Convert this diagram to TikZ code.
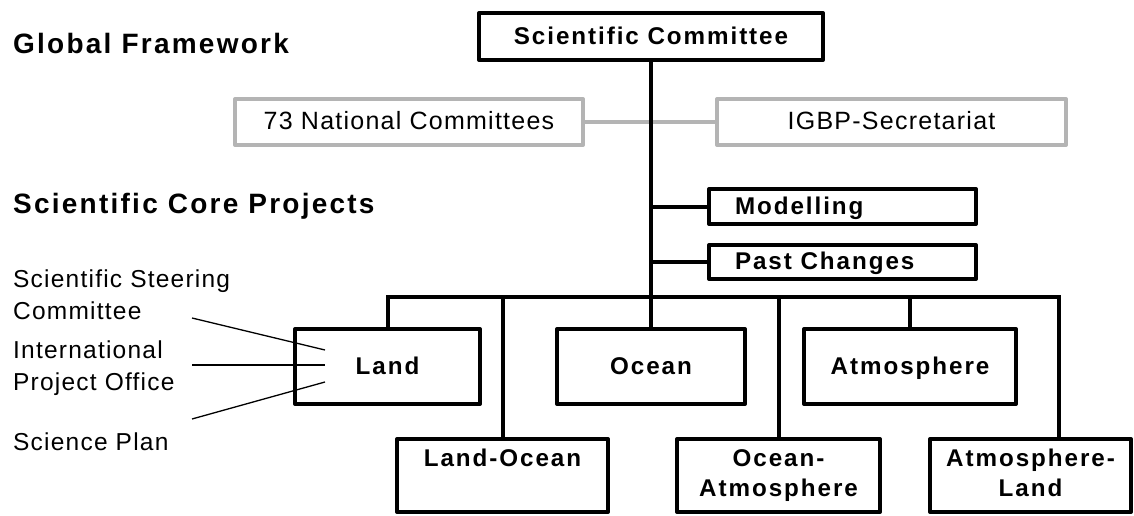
\documentclass[tikz,border=0pt]{standalone}
\usepackage{fontspec}
\setmainfont{Liberation Sans}
\newfontfamily\hfont{Liberation Sans}[LetterSpace=8]
\newfontfamily\bfont{Liberation Sans}[LetterSpace=8]
\newfontfamily\rfont{Liberation Sans}[LetterSpace=5]
\definecolor{boxgray}{RGB}{180,180,180}
\begin{document}
\begin{tikzpicture}[x=1pt,y=-1pt,
  heading/.style={font=\hfont\bfseries\fontsize{28pt}{32pt}\selectfont, anchor=base west, inner sep=0pt},
  lbl/.style={font=\rfont\fontsize{24.5pt}{32pt}\selectfont, anchor=base west, inner sep=0pt, align=left},
  blk/.style={draw=black, line width=4pt, inner sep=0pt, line join=round,
    font=\bfont\bfseries\fontsize{24.2pt}{30pt}\selectfont, text height=17.3pt, text depth=2pt},
  btext/.style={font=\bfont\bfseries\fontsize{24.2pt}{30pt}\selectfont, inner sep=0pt, align=center, anchor=base},
  gry/.style={draw=boxgray, line width=4pt, inner sep=0pt, line join=round,
    font=\rfont\fontsize{25pt}{30pt}\selectfont, text height=18pt, text depth=3pt},
  conn/.style={draw=black, line width=4pt},
  gconn/.style={draw=boxgray, line width=4pt},
  thin/.style={draw=black, line width=1.3pt}]
\useasboundingbox (0,0) rectangle (1134,516);

% headings
\node[heading] (gf) at (13,54) {Global Framework};
\node[heading] (scp) at (13,213) {Scientific Core Projects};

% global framework
\node[blk, minimum width=344pt, minimum height=47pt] (sc) at (651,36.5) {Scientific Committee};
\node[gry, minimum width=348pt, minimum height=46pt] (nc) at (409,122) {73 National Committees};
\node[gry, minimum width=349pt, minimum height=46pt] (igbp) at (891.5,122) {IGBP-Secretariat};

% cross-cutting
\node[blk, minimum width=267pt, minimum height=35pt, inner xsep=26pt] (mod) at (842.5,206.5) {\makebox[215pt][l]{Modelling}};
\node[blk, minimum width=267pt, minimum height=34pt, inner xsep=26pt] (pc) at (842.5,262) {\makebox[215pt][l]{Past Changes}};

% core projects top row
\node[blk, minimum width=185pt, minimum height=75pt] (land) at (387.5,366.5) {Land};
\node[blk, minimum width=188pt, minimum height=75pt] (oc) at (651,366.5) {Ocean};
\node[blk, minimum width=212pt, minimum height=75pt] (atm) at (910,366.5) {Atmosphere};

% core projects bottom row
\node[blk, minimum width=211pt, minimum height=73pt] (lo) at (502.5,475.5) {};
\node[blk, minimum width=203pt, minimum height=73pt] (oa) at (778.5,475.5) {};
\node[blk, minimum width=201pt, minimum height=73pt] (al) at (1030.5,475.5) {};
\node[btext] (lot) at ([yshift=-29pt]lo.north) {Land-Ocean};
\node[btext] (oat) at ([yshift=-59pt]oa.north) {Ocean-\\Atmosphere};
\node[btext] (alt) at ([yshift=-59pt]al.north) {Atmosphere-\\Land};

% left labels
\node[lbl] (ssc) at (13,319) {Scientific Steering\\Committee};
\node[lbl] (ipo) at (13,390) {International\\Project Office};
\node[lbl] (spl) at (13,450) {Science Plan};

% connectors
\draw[gconn] (nc.east) -- (igbp.west);
\draw[conn] (sc.south) -- (oc.north);
\coordinate (j1) at (sc.south |- mod.west);
\coordinate (j2) at (sc.south |- pc.west);
\draw[conn] (j1) -- (mod.west);
\draw[conn] (j2) -- (pc.west);
\coordinate (bus) at (651,297);
\coordinate (busR) at (1059,297);
\draw[conn] (land.north) |- (busR) -- (busR |- al.north);
\draw[conn] (lo.north) -- (lo.north |- bus);
\draw[conn] (oa.north) -- (oa.north |- bus);
\draw[conn] (atm.north) -- (atm.north |- bus);

% thin pointer lines
\coordinate (s1) at (192,318);
\coordinate (s2) at (192,365);
\coordinate (s3) at (192,419);
\coordinate (e1) at (325,350);
\coordinate (e2) at (325,365);
\coordinate (e3) at (325,382);
\draw[thin] (s1) -- (e1);
\draw[thin] (s2) -- (e2);
\draw[thin] (s3) -- (e3);
\end{tikzpicture}
\end{document}
